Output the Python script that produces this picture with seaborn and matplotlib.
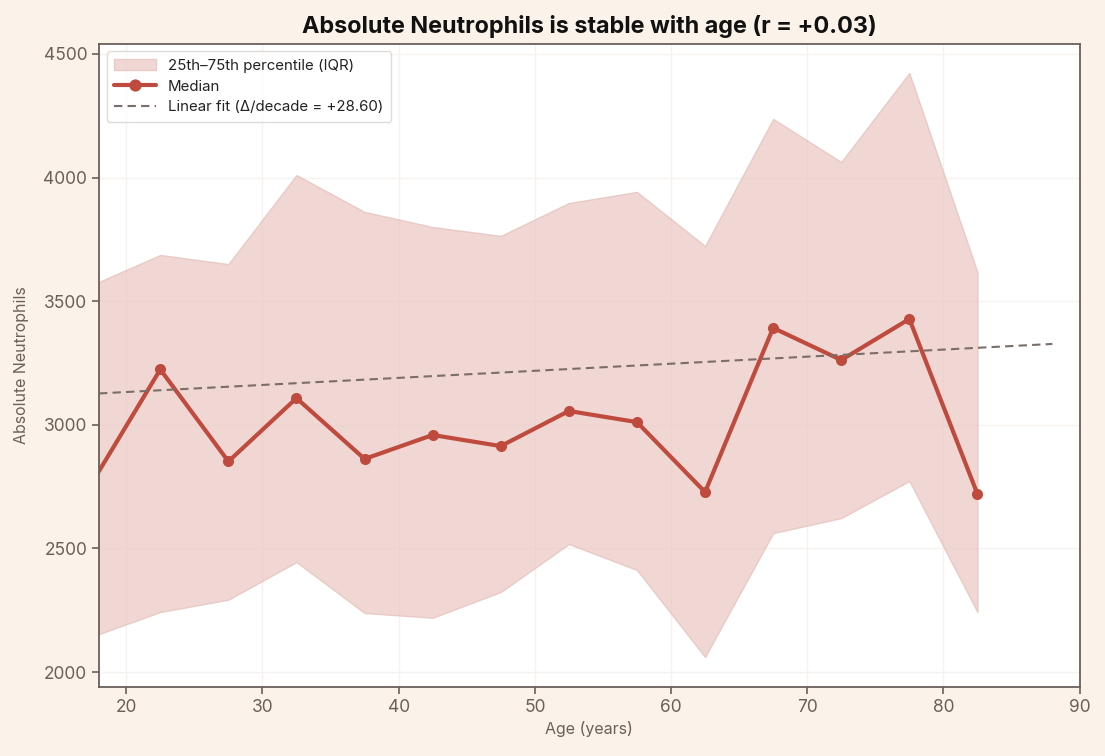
import matplotlib

matplotlib.use("Agg")
import matplotlib.pyplot as plt
import numpy as np
import pandas as pd
import seaborn as sns

# binned age centres (5-year bins)
age_centers = [17.5, 22.5, 27.5, 32.5, 37.5, 42.5, 47.5, 52.5, 57.5, 62.5, 67.5, 72.5, 77.5, 82.5]
median_vals = [2767, 3224, 2852, 3108, 2862, 2959, 2914, 3056, 3011, 2728, 3392, 3262, 3428, 2720]
q25_vals = [2144, 2243, 2293, 2445, 2239, 2220, 2324, 2518, 2413, 2061, 2562, 2623, 2773, 2243]
q75_vals = [3566, 3687, 3650, 4010, 3861, 3800, 3764, 3897, 3942, 3723, 4237, 4063, 4423, 3618]

# linear fit over the raw age range
fit_ages = [18, 88]
fit_at_18 = 3127
fit_slope_per_decade = 28.60
r_value = 0.03

bg = "#FBF3E9"
ink = "#6B5F5A"
red = "#BF4B3E"
fill = "#E9C4BF"

sns.set_theme(style="whitegrid")
plt.rcParams["font.family"] = ["Inter", "DejaVu Sans"]

df = pd.DataFrame({"age": age_centers, "median": median_vals, "q25": q25_vals, "q75": q75_vals})
fit_df = pd.DataFrame(
    {
        "age": fit_ages,
        "fit": [fit_at_18 + fit_slope_per_decade * (a - fit_ages[0]) / 10 for a in fit_ages],
    }
)

fig = plt.figure(figsize=(11.05, 7.56), dpi=100, facecolor=bg)
ax = fig.add_axes([0.0896, 0.0913, 0.8874, 0.8505])
ax.set_facecolor("white")

ax.fill_between(
    df["age"], df["q25"], df["q75"], color=fill, alpha=0.68, linewidth=1,
    edgecolor="#E2BDB8", label="25th\u201375th percentile (IQR)",
)
sns.lineplot(
    data=df, x="age", y="median", ax=ax, color=red, linewidth=3, marker="o",
    markersize=8, markeredgewidth=0, label="Median",
)
sns.lineplot(
    data=fit_df, x="age", y="fit", ax=ax, color="#7A6E6A", linewidth=1.5,
    linestyle=(0, (4, 2.5)), label=f"Linear fit (\u0394/decade = {fit_slope_per_decade:+.2f})",
)

ax.set_xlim(18, 90)
ax.set_ylim(1940, 4540)
ax.set_xticks(range(20, 91, 10))
ax.set_yticks(range(2000, 4501, 500))
ax.grid(True, color="#F6F2EF", linewidth=1)

for spine in ax.spines.values():
    spine.set_color(ink)
    spine.set_linewidth(1.3)
ax.tick_params(axis="both", colors=ink, labelsize=12.5, length=5, width=1.2, direction="out",
               bottom=True, left=True)

ax.set_xlabel("Age (years)", fontsize=11.5, color=ink)
ax.set_ylabel("Absolute Neutrophils", fontsize=11.5, color=ink, labelpad=10)
ax.set_title(
    f"Absolute Neutrophils is stable with age (r = {r_value:+.2f})",
    fontsize=16.8, fontweight="bold", color="#111111", pad=8,
)

leg = ax.legend(loc="upper left", fontsize=10.8, frameon=True, fancybox=True,
                borderpad=0.5, handlelength=2.8, labelspacing=0.45, markerscale=1.1)
leg.get_frame().set_facecolor("white")
leg.get_frame().set_edgecolor("#D8D2CE")
for text in leg.get_texts():
    text.set_color("#222222")

fig.savefig("out.png", dpi=100, facecolor=bg)
